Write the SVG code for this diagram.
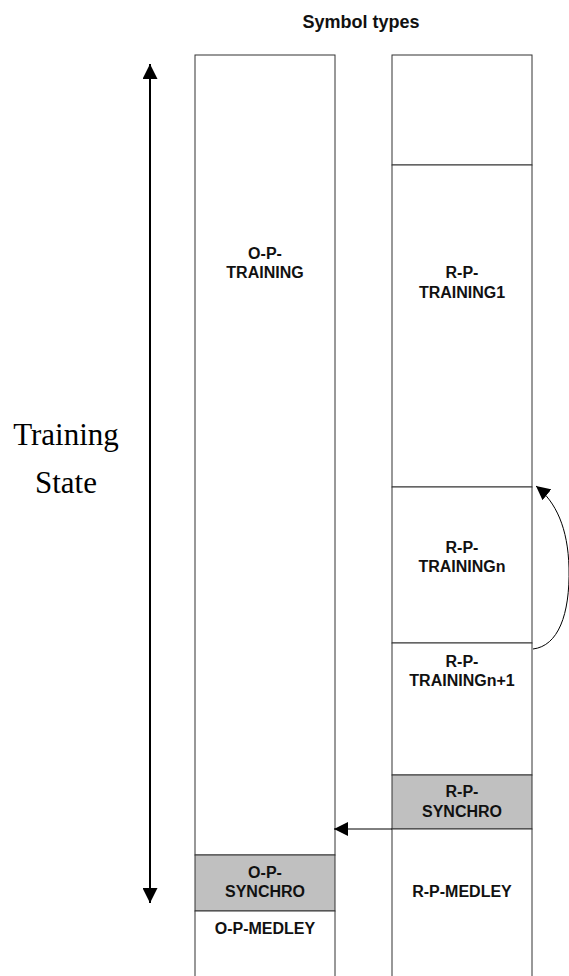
<svg xmlns="http://www.w3.org/2000/svg" width="569" height="976" viewBox="0 0 569 976">
<defs>
<style>
.box{fill:#ffffff;stroke:#333333;stroke-width:1}
.gray{fill:#c0c0c0;stroke:#333333;stroke-width:1}
.lbl{font-family:"Liberation Sans",Arial,sans-serif;font-size:16px;font-weight:bold;fill:#111111;text-anchor:middle}
.ttl{font-family:"Liberation Sans",Arial,sans-serif;font-size:18px;font-weight:bold;fill:#111111;text-anchor:middle}
.serif{font-family:"Liberation Serif","Times New Roman",serif;font-size:31px;fill:#000000;text-anchor:middle}
.conn{fill:none;stroke:#000000;stroke-width:1}
</style>
<marker id="ah" viewBox="0 0 10 10" refX="10" refY="5" markerWidth="14" markerHeight="14" markerUnits="userSpaceOnUse" orient="auto">
<path d="M0,0 L10,5 L0,10 Z" fill="#000000"/>
</marker>
<marker id="ahBig" viewBox="0 0 10 10" refX="10" refY="5" markerWidth="15" markerHeight="15" markerUnits="userSpaceOnUse" orient="auto-start-reverse">
<path d="M0,0 L10,5 L0,10 Z" fill="#000000"/>
</marker>
</defs>
<rect width="569" height="976" fill="#ffffff"/>
<text id="title" x="361" y="28" class="ttl">Symbol types</text>
<g id="training-state">
<text x="66" y="445" class="serif">Training</text>
<text x="66" y="493" class="serif">State</text>
</g>
<g id="o-p-training"><rect x="195" y="55" width="140" height="800" class="box"/><text x="265" y="259" class="lbl">O-P-</text><text x="265" y="278" class="lbl">TRAINING</text></g>
<g id="o-p-synchro"><rect x="195" y="855" width="140" height="56" class="gray"/><text x="265" y="878" class="lbl">O-P-</text><text x="265" y="897" class="lbl">SYNCHRO</text></g>
<g id="o-p-medley"><rect x="195" y="911" width="140" height="80" class="box"/><text x="265" y="934" class="lbl">O-P-MEDLEY</text></g>
<g id="r-top"><rect x="392" y="55" width="140" height="110" class="box"/></g>
<g id="r-p-training1"><rect x="392" y="165" width="140" height="322" class="box"/><text x="462" y="278" class="lbl">R-P-</text><text x="462" y="298" class="lbl">TRAINING1</text></g>
<g id="r-p-trainingn"><rect x="392" y="487" width="140" height="156" class="box"/><text x="462" y="553" class="lbl">R-P-</text><text x="462" y="572" class="lbl">TRAININGn</text></g>
<g id="r-p-trainingn1"><rect x="392" y="643" width="140" height="132" class="box"/><text x="462" y="667" class="lbl">R-P-</text><text x="462" y="686" class="lbl">TRAININGn+1</text></g>
<g id="r-p-synchro"><rect x="392" y="775" width="140" height="54" class="gray"/><text x="462" y="797" class="lbl">R-P-</text><text x="462" y="817" class="lbl">SYNCHRO</text></g>
<g id="r-p-medley"><rect x="392" y="829" width="140" height="162" class="box"/><text x="462" y="897" class="lbl">R-P-MEDLEY</text></g>
<g id="connectors">
<line x1="150" y1="64" x2="150" y2="903" stroke="#000000" stroke-width="2" marker-start="url(#ahBig)" marker-end="url(#ahBig)"/>
<line x1="392" y1="829" x2="334" y2="829" class="conn" marker-end="url(#ah)"/>
<path d="M533,649 C558,646 570,615 569,568 C568,528 556,502 536,486" class="conn" marker-end="url(#ah)"/>
</g>
</svg>
